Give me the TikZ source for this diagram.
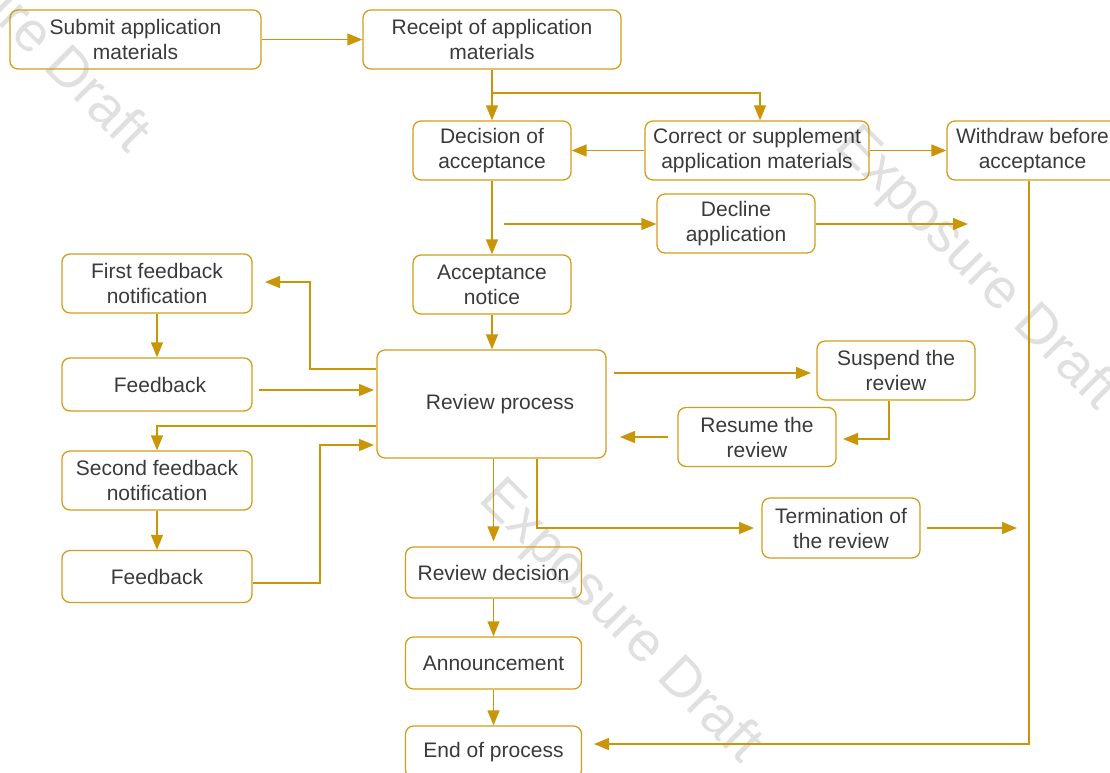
\documentclass[tikz,border=0pt]{standalone}
\usepackage{fontspec}
\setmainfont{Liberation Sans}
\usetikzlibrary{arrows.meta}
\definecolor{boxc}{RGB}{210,158,24}
\definecolor{linec}{RGB}{202,150,8}
\definecolor{txt}{RGB}{58,58,58}
\definecolor{wmark}{RGB}{224,224,224}
\tikzset{
  box/.style={draw=boxc, line width=1.3pt, rounded corners=8pt,
    align=center, text=txt, inner sep=0pt,
    font=\fontsize{21}{25}\selectfont},
  conn/.style={draw=linec, line width=1.4pt,
    -{Triangle[length=15pt,width=12pt]}},
  wm/.style={text=wmark, rotate=-45, font=\fontsize{56}{60}\selectfont}
}
\begin{document}
\begin{tikzpicture}[x=1pt,y=-1pt]
\useasboundingbox (0,0) rectangle (1110,772);
\begin{scope}
\clip (0,0) rectangle (1110,772);

% watermark, underneath everything
\node[wm] (wm1) at (7,12) {Exposure Draft};
\node[wm] (wm2) at (620,622) {Exposure Draft};
\node[wm] (wm3) at (976,269) {Exposure Draft};

% boxes
\node[box, minimum width=251pt, minimum height=59pt] (sub) at (135.5,39.5) {Submit application\\materials};
\node[box, minimum width=258pt, minimum height=59pt] (rec) at (492,39.5) {Receipt of application\\materials};
\node[box, minimum width=158pt, minimum height=59pt] (dec) at (492,150.5) {Decision of\\acceptance};
\node[box, minimum width=224pt, minimum height=59pt] (cor) at (757,150.5) {Correct or supplement\\application materials};
\node[box, minimum width=171pt, minimum height=59pt] (wd) at (1032.5,150.5) {Withdraw before\\acceptance};
\node[box, minimum width=158pt, minimum height=59pt] (dcl) at (736,223.5) {Decline\\application};
\node[box, minimum width=158pt, minimum height=59pt] (acc) at (492,284.5) {Acceptance\\notice};
\node[box, minimum width=190pt, minimum height=59pt] (ffn) at (157,283.5) {First feedback\\notification};
\node[box, minimum width=190pt, minimum height=53pt] (fb1) at (157,384.5) {\hspace{6pt}Feedback};
\node[box, minimum width=190pt, minimum height=59pt] (sfn) at (157,480.5) {Second feedback\\notification};
\node[box, minimum width=190pt, minimum height=52pt] (fb2) at (157,576.5) {Feedback};
\node[box, minimum width=229pt, minimum height=108pt] (rev) at (491.5,404) {\hspace{17pt}Review process};
\node[box, minimum width=158pt, minimum height=59pt] (sus) at (896,370.5) {Suspend the\\review};
\node[box, minimum width=158pt, minimum height=59pt] (res) at (757,437) {Resume the\\review};
\node[box, minimum width=158pt, minimum height=60pt] (ter) at (841,528) {Termination of\\the review};
\node[box, minimum width=176pt, minimum height=51pt] (rd) at (493.5,572.5) {Review decision};
\node[box, minimum width=176pt, minimum height=52pt] (ann) at (493.5,663) {Announcement};
\node[box, minimum width=176pt, minimum height=52pt] (end) at (493.5,752) {End of process};

% free connector ends
\coordinate (split) at (492,93);
\coordinate (dclin) at (504,224);
\coordinate (dclout) at (968,224);
\coordinate (endin) at (594,744);
\coordinate (ffnin) at (265,282);
\coordinate (fb1out) at (259,390);
\coordinate (revin1) at (374,390);
\coordinate (revin2) at (374,445);
\coordinate (revout) at (614,373);
\coordinate (susin) at (811,373);
\coordinate (resin) at (843,439);
\coordinate (resout) at (668,437);
\coordinate (revin3) at (620,437);
\coordinate (terin) at (754,528);
\coordinate (terout) at (927,528);
\coordinate (terend) at (1017,528);

% connectors
\draw[conn] (sub) -- (rec);
\draw[conn] (rec.south) -- (dec.north);
\draw[conn] (split) -| ([xshift=3pt]cor.north);
\draw[conn] (cor.west) -- (dec.east);
\draw[conn] (cor.east) -- (wd.west);
\draw[conn] (dec.south) -- (acc.north);
\draw[conn] (dclin) -- (dcl.west |- dclin);
\draw[conn] (dcl.east |- dclout) -- (dclout);
\draw[conn] ([xshift=-3.5pt]wd.south) |- (endin);
\draw[conn] (acc.south) -- (acc.south |- rev.north);
\draw[conn] (rev.west |- 0,369) -| ([xshift=45pt]ffnin) -- (ffnin);
\draw[conn] (ffn.south) -- (fb1.north);
\draw[conn] (fb1out) -- (revin1);
\draw[conn] (rev.west |- 0,426) -| (sfn.north);
\draw[conn] (sfn.south) -- (fb2.north);
\draw[conn] (fb2.east |- 0,583) -| ([xshift=-54pt]revin2) -- (revin2);
\draw[conn] (revout) -- (susin);
\draw[conn] ([xshift=-7pt]sus.south) |- (resin);
\draw[conn] (resout) -- (revin3);
\draw[conn] (rd.north |- rev.south) -- ([yshift=5pt]rd.north);
\draw[conn] (rev.south -| 537,0) |- (terin);
\draw[conn] (terout) -- (terend);
\draw[conn] (rd.south) -- (ann.north);
\draw[conn] (ann.south) -- (end.north);
\end{scope}
\end{tikzpicture}
\end{document}
